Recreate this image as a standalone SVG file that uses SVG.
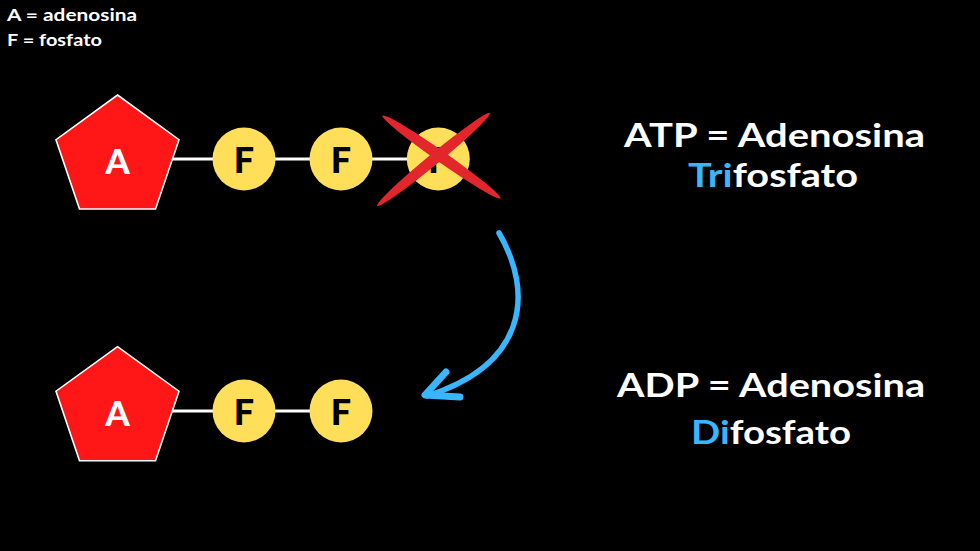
<svg xmlns="http://www.w3.org/2000/svg" width="980" height="551" viewBox="0 0 980 551">
<style>
.bg{fill:#000}
.pent{fill:#FF1616;stroke:#fff;stroke-width:1.6}
.circ{fill:#FFDE59}
.bond{stroke:#fff;stroke-width:3.2}
.lbl{font-family:Lato,"Open Sans",sans-serif;font-weight:900;text-anchor:middle}
.big{font-family:Lato,"Open Sans",sans-serif;font-weight:700;font-size:33px;fill:#fff;text-anchor:middle}
.leg{font-family:Lato,"Open Sans",sans-serif;font-weight:700;font-size:17px;fill:#fff}
.blue{fill:#38B6FF}
</style>
<rect class="bg" x="0" y="0" width="980" height="551"/>
<g id="legend">
<text class="leg" x="7" y="21" textLength="130" lengthAdjust="spacingAndGlyphs">A = adenosina</text>
<text class="leg" x="7" y="46" textLength="95" lengthAdjust="spacingAndGlyphs">F = fosfato</text>
</g>
<g id="connectors">
<line class="bond" x1="172" y1="159" x2="214" y2="159"/>
<line class="bond" x1="274" y1="159" x2="311" y2="159"/>
<line class="bond" x1="371" y1="159" x2="408" y2="159"/>
<line class="bond" x1="172" y1="411" x2="214" y2="411"/>
<line class="bond" x1="274" y1="411" x2="311" y2="411"/>
<g id="arrow" fill="none" stroke="#38B6FF" stroke-linecap="round" stroke-linejoin="round">
<path d="M499,233 C535,295 525,365 427,396" stroke-width="5.5"/>
<path d="M446,372 L425,395 L460,397" stroke-width="7"/>
</g>
</g>
<g id="atp">
<g id="atp-a">
<polygon class="pent" points="117.5,95 179,139.7 155.5,209 79.5,209 56,139.7"/>
<text class="lbl" x="117.5" y="174" font-size="35" fill="#fff">A</text>
</g>
<g id="atp-f1"><circle class="circ" cx="244" cy="159" r="31.5"/><text class="lbl" x="244" y="172.5" font-size="36" fill="#000">F</text></g>
<g id="atp-f2"><circle class="circ" cx="341" cy="159" r="31.5"/><text class="lbl" x="341" y="172.5" font-size="36" fill="#000">F</text></g>
<g id="atp-f3"><circle class="circ" cx="438.3" cy="159" r="31.5"/><text class="lbl" x="438.3" y="172.5" font-size="36" fill="#000">F</text></g>
<g id="cross" fill="#E3262B">
<ellipse cx="441.5" cy="157" rx="72" ry="5.5" transform="rotate(35 441.5 157)"/>
<ellipse cx="433.5" cy="159.5" rx="73" ry="5.5" transform="rotate(-39.5 433.5 159.5)"/>
</g>
</g>
<g id="adp">
<g id="adp-a">
<polygon class="pent" points="117.5,346.7 179,391.2 155.5,460.7 79.5,460.7 56,391.2"/>
<text class="lbl" x="117.5" y="425.5" font-size="35" fill="#fff">A</text>
</g>
<g id="adp-f1"><circle class="circ" cx="244" cy="411" r="31.5"/><text class="lbl" x="244" y="424.5" font-size="36" fill="#000">F</text></g>
<g id="adp-f2"><circle class="circ" cx="341" cy="411" r="31.5"/><text class="lbl" x="341" y="424.5" font-size="36" fill="#000">F</text></g>
</g>
<g id="atp-text">
<text class="big" x="774.5" y="147" textLength="301" lengthAdjust="spacingAndGlyphs">ATP = Adenosina</text>
<text class="big" x="773" y="187" textLength="170" lengthAdjust="spacingAndGlyphs"><tspan class="blue">Tri</tspan>fosfato</text>
</g>
<g id="adp-text">
<text class="big" x="771" y="397" textLength="308" lengthAdjust="spacingAndGlyphs">ADP = Adenosina</text>
<text class="big" x="771" y="444" textLength="160" lengthAdjust="spacingAndGlyphs"><tspan class="blue">Di</tspan>fosfato</text>
</g>
</svg>
